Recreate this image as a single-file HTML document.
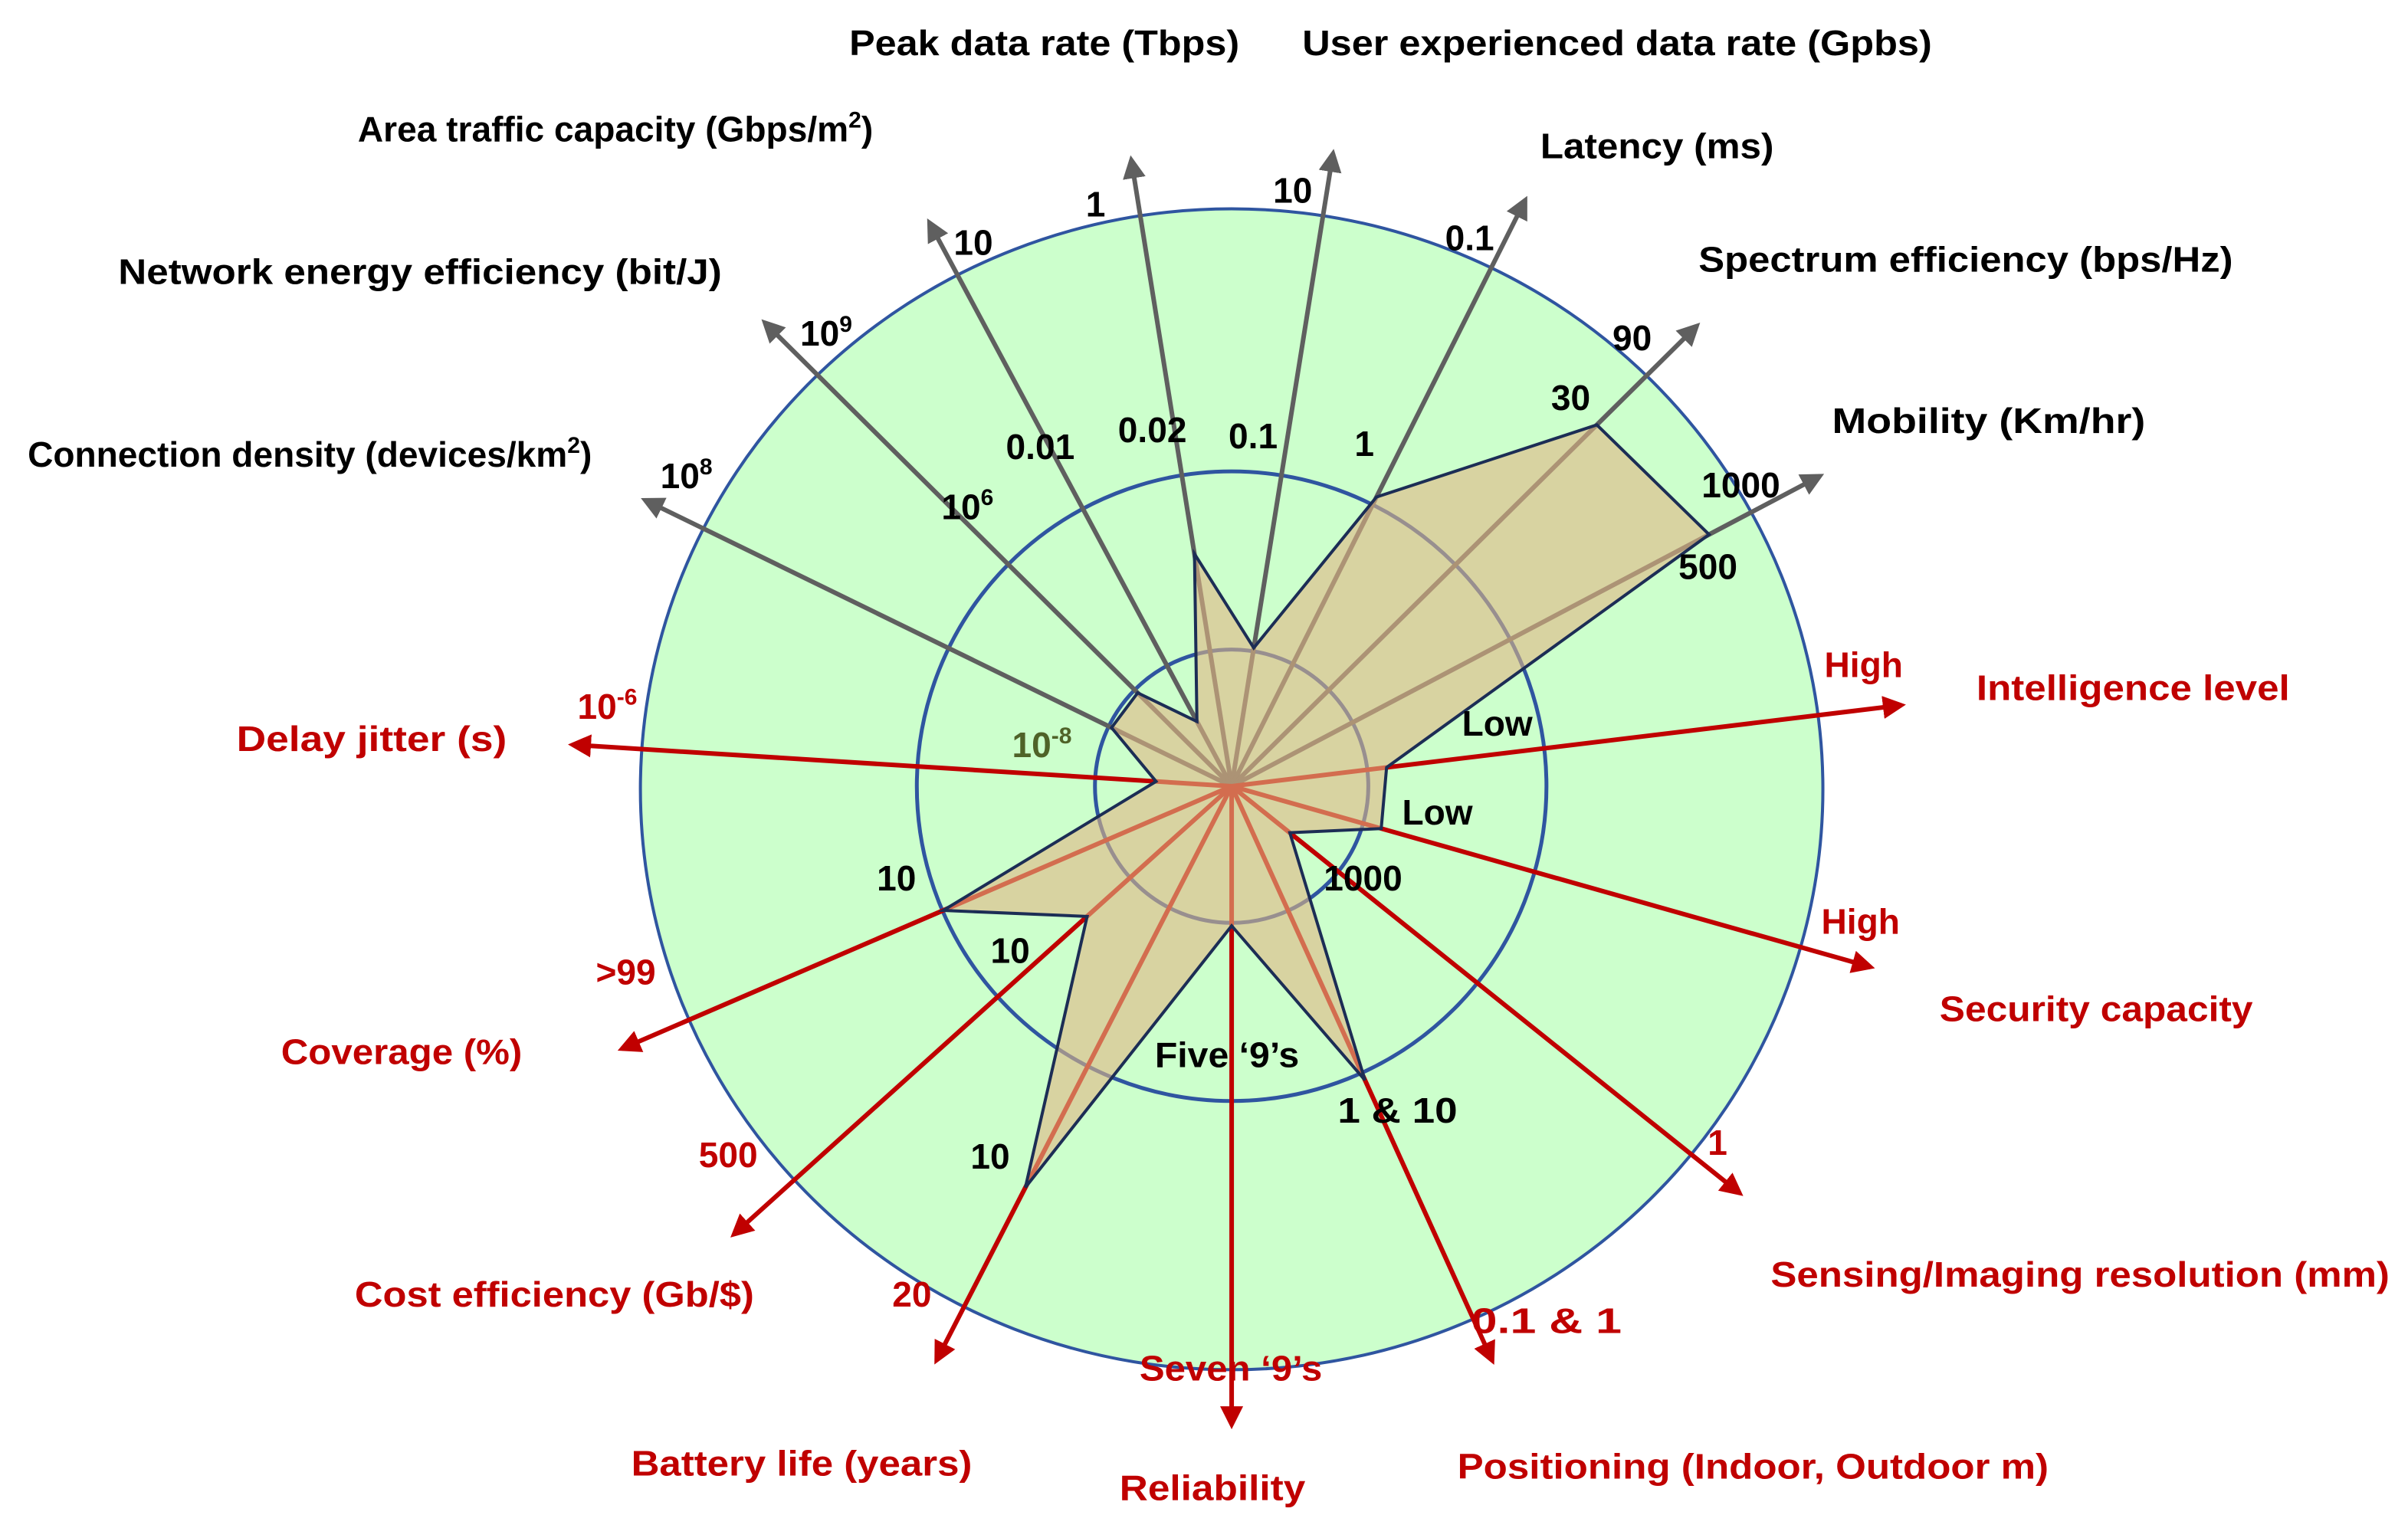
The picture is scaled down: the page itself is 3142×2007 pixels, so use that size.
<!DOCTYPE html>
<html><head><meta charset="utf-8"><style>
html,body{margin:0;padding:0;background:#fff;}
svg{display:block;}
text{font-family:"Liberation Sans",sans-serif;font-weight:bold;font-size:23px;}
.k{fill:#000;} .r{fill:#c00000;}
</style></head><body>
<svg id="chart" width="3142" height="2007" viewBox="0 0 1568 1001.6" xmlns="http://www.w3.org/2000/svg">
<defs>
<marker id="ag" viewBox="0 0 10 10" refX="8" refY="5" markerWidth="5" markerHeight="5" orient="auto"><path d="M0,0 L10,5 L0,10 z" fill="#5f5f5f"/></marker>
<marker id="ar" viewBox="0 0 10 10" refX="8" refY="5" markerWidth="5" markerHeight="5" orient="auto"><path d="M0,0 L10,5 L0,10 z" fill="#c00000"/></marker>
</defs>
<ellipse cx="802" cy="514" rx="385" ry="378" fill="#ccffcc" stroke="#2f55a0" stroke-width="2"/>
<circle cx="802" cy="512" r="205" fill="none" stroke="#2f55a0" stroke-width="2.5"/>
<circle cx="802" cy="512" r="89" fill="none" stroke="#2f55a0" stroke-width="2.5"/>
<g id="axes"></g>
<polygon id="poly" fill="#e0b584" fill-opacity="0.6" stroke="#1c2d55" stroke-width="2" stroke-linejoin="miter"/>
<g>
<text class="k" x="553" y="36" textLength="254" lengthAdjust="spacingAndGlyphs">Peak data rate (Tbps)</text>
<text class="k" x="848" y="36" textLength="410" lengthAdjust="spacingAndGlyphs">User experienced data rate (Gpbs)</text>
<text class="k" x="233" y="92">Area traffic capacity (Gbps/m<tspan dy="-9" font-size="15">2</tspan><tspan dy="9">)</tspan></text>
<text class="k" x="1003" y="103" textLength="152" lengthAdjust="spacingAndGlyphs">Latency (ms)</text>
<text class="k" x="77" y="185" textLength="393" lengthAdjust="spacingAndGlyphs">Network energy efficiency (bit/J)</text>
<text class="k" x="1106" y="177" textLength="348" lengthAdjust="spacingAndGlyphs">Spectrum efficiency (bps/Hz)</text>
<text class="k" x="1193" y="282" textLength="204" lengthAdjust="spacingAndGlyphs">Mobility (Km/hr)</text>
<text class="k" x="18" y="304">Connection density (devices/km<tspan dy="-9" font-size="15">2</tspan><tspan dy="9">)</tspan></text>
<text class="r" x="1287" y="456" textLength="204" lengthAdjust="spacingAndGlyphs">Intelligence level</text>
<text class="r" x="154" y="489" textLength="176" lengthAdjust="spacingAndGlyphs">Delay jitter  (s)</text>
<text class="r" x="1263" y="665" textLength="204" lengthAdjust="spacingAndGlyphs">Security capacity</text>
<text class="r" x="183" y="693" textLength="157" lengthAdjust="spacingAndGlyphs">Coverage (%)</text>
<text class="r" x="1153" y="838" textLength="403" lengthAdjust="spacingAndGlyphs">Sensing/Imaging resolution (mm)</text>
<text class="r" x="231" y="851" textLength="260" lengthAdjust="spacingAndGlyphs">Cost efficiency (Gb/$)</text>
<text class="r" x="411" y="961" textLength="222" lengthAdjust="spacingAndGlyphs">Battery life (years)</text>
<text class="r" x="949" y="963" textLength="385" lengthAdjust="spacingAndGlyphs">Positioning (Indoor, Outdoor m)</text>
<text class="r" x="729" y="977" textLength="121" lengthAdjust="spacingAndGlyphs">Reliability</text>
</g>
<g>
<text class="r" x="1188" y="441">High</text>
<text class="r" x="376" y="468">10<tspan dy="-9" font-size="15">-6</tspan></text>
<text class="r" x="1186" y="608">High</text>
<text class="r" x="388" y="641">&gt;99</text>
<text class="r" x="1112" y="752">1</text>
<text class="r" x="455" y="760">500</text>
<text class="r" x="581" y="851">20</text>
<text class="r" x="958" y="868" textLength="98" lengthAdjust="spacingAndGlyphs">0.1 &amp; 1</text>
<text class="r" x="742" y="899" textLength="119" lengthAdjust="spacingAndGlyphs">Seven ‘9’s</text>
<text class="k" x="707" y="141">1</text>
<text class="k" x="829" y="132">10</text>
<text class="k" x="621" y="166">10</text>
<text class="k" x="941" y="163">0.1</text>
<text class="k" x="1050" y="228">90</text>
<text class="k" x="521" y="225">10<tspan dy="-9" font-size="15">9</tspan></text>
<text class="k" x="1010" y="267">30</text>
<text class="k" x="430" y="318">10<tspan dy="-9" font-size="15">8</tspan></text>
<text class="k" x="1108" y="324">1000</text>
<text class="k" x="655" y="299">0.01</text>
<text class="k" x="728" y="288">0.02</text>
<text class="k" x="800" y="292">0.1</text>
<text class="k" x="882" y="297">1</text>
<text class="k" x="613" y="338">10<tspan dy="-9" font-size="15">6</tspan></text>
<text class="k" x="1093" y="377">500</text>
<text class="k" x="952" y="479">Low</text>
<text x="659" y="493" fill="#4f6228">10<tspan dy="-9" font-size="15">-8</tspan></text>
<text class="k" x="913" y="537">Low</text>
<text class="k" x="862" y="580">1000</text>
<text class="k" x="571" y="580">10</text>
<text class="k" x="645" y="627">10</text>
<text class="k" x="752" y="695" textLength="94" lengthAdjust="spacingAndGlyphs">Five ‘9’s</text>
<text class="k" x="871" y="731" textLength="78" lengthAdjust="spacingAndGlyphs">1 &amp; 10</text>
<text class="k" x="632" y="761">10</text>
</g>
</svg>
<script>
const categories = ["connection-density","network-energy-efficiency","area-traffic-capacity","peak-data-rate","user-experienced-data-rate","latency","spectrum-efficiency","mobility","intelligence-level","security-capacity","sensing-resolution","positioning","reliability","battery-life","cost-efficiency","coverage","delay-jitter"];
const axisAngles = [206.0,224.8,241.8,260.9,279.1,296.6,315.3,332.2,353.1,15.8,38.7,65.6,90,117.2,138.0,156.7,183.6];
const axisLengths = [1.104,1.113,1.082,1.073,1.084,1.109,1.107,1.125,1.141,1.123,1.101,1.067,1.08,1.092,1.133,1.123,1.117];
const axisRed = [0,0,0,0,0,0,0,0,1,1,1,1,1,1,1,1,1];
const values = [0.226,0.224,0.124,0.398,0.237,0.547,0.869,0.913,0.264,0.263,0.126,0.546,0.236,0.763,0.329,0.531,0.128];

const CX = 802, CY = 512, R = 385;
function px(angleDeg, v){ return CX + Math.cos(angleDeg*Math.PI/180)*v*R; }
function py(angleDeg, v){ return CY + Math.sin(angleDeg*Math.PI/180)*v*R; }

const NS = "http://www.w3.org/2000/svg";
const axesG = document.getElementById("axes");
categories.forEach((c,i)=>{
  const l = document.createElementNS(NS,"line");
  
  
  l.setAttribute("x1",CX); l.setAttribute("y1",CY);
  l.setAttribute("x2",px(axisAngles[i],axisLengths[i]));
  l.setAttribute("y2",py(axisAngles[i],axisLengths[i]));
  l.setAttribute("stroke", axisRed[i] ? "#c00000" : "#5f5f5f");
  l.setAttribute("stroke-width", 3);
  l.setAttribute("marker-end", axisRed[i] ? "url(#ar)" : "url(#ag)");
  axesG.appendChild(l);
});
const pts = values.map((v,i)=> px(axisAngles[i],v).toFixed(1)+","+py(axisAngles[i],v).toFixed(1)).join(" ");
document.getElementById("poly").setAttribute("points", pts);
</script>
</body></html>
